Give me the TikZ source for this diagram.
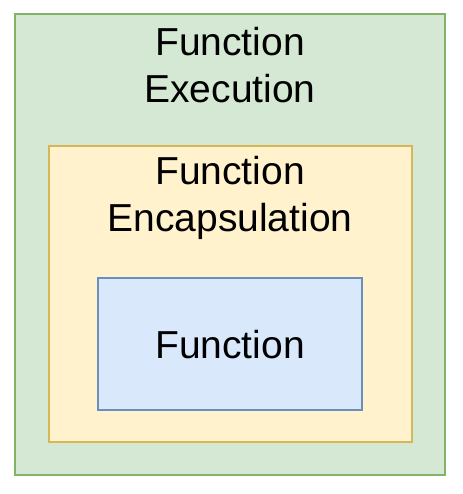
\documentclass[tikz,border=0pt]{standalone}
\usepackage{fontspec}
\setmainfont{Liberation Sans}
\definecolor{execfill}{HTML}{D5E8D4}
\definecolor{execline}{HTML}{82B366}
\definecolor{encfill}{HTML}{FFF2CC}
\definecolor{encline}{HTML}{D6B656}
\definecolor{funcfill}{HTML}{DAE8FC}
\definecolor{funcline}{HTML}{6C8EBF}
\tikzset{
    layer/.style={line width=2.6pt},
    label/.style={align=center, font=\fontsize{39}{46.5}\selectfont, inner sep=0pt}
}
\begin{document}
\begin{tikzpicture}[x=1pt,y=-1pt]
        \useasboundingbox (0,0) rectangle (462,494);
        \draw[layer, draw=execline, fill=execfill] (15,14) rectangle (445,475);
        \draw[layer, draw=encline, fill=encfill] (49,146) rectangle (412,442);
        \draw[layer, draw=funcline, fill=funcfill] (98,278) rectangle (362,410);
        \node[label] (exec) at (230,65) {Function\\Execution};
        \node[label] (enc) at (230,198) {Function\\Encapsulation};
        \node[label] (func) at (230,345) {Function};
    \end{tikzpicture}
\end{document}
